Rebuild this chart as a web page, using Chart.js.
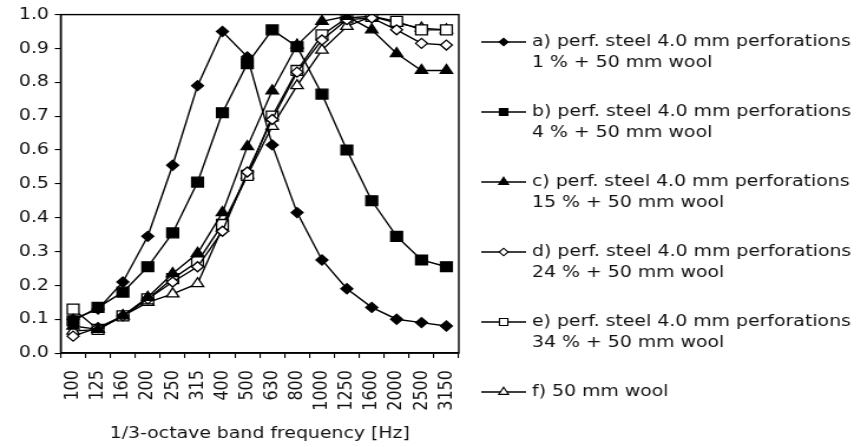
<!DOCTYPE html>
<html>
<head>
<meta charset="utf-8">
<script src="https://cdn.jsdelivr.net/npm/chart.js@4/dist/chart.umd.min.js"></script>
<style>
  html, body { margin: 0; padding: 0; background: #fff; overflow: hidden; }
  /* the reference is stretched sideways, so the chart is drawn narrower and widened */
  #wrap { width: 730px; height: 447px; transform: scaleX(1.1795); transform-origin: 0 0; }
</style>
</head>
<body>
<div id="wrap"><canvas id="absChart"></canvas></div>
<script>
// 1/3-octave bands
const bands = ["100", "125", "160", "200", "250", "315", "400", "500", "630",
               "800", "1000", "1250", "1600", "2000", "2500", "3150"];

// absorption coefficients
const seriesA = [0.10, 0.13, 0.21, 0.345, 0.555, 0.79, 0.95, 0.875, 0.615, 0.415, 0.275, 0.19, 0.135, 0.10, 0.09, 0.08];
const seriesB = [0.095, 0.135, 0.18, 0.255, 0.355, 0.505, 0.71, 0.855, 0.955, 0.905, 0.765, 0.60, 0.45, 0.345, 0.275, 0.255];
const seriesC = [0.08, 0.07, 0.11, 0.165, 0.235, 0.295, 0.415, 0.61, 0.775, 0.91, 0.98, 0.995, 0.955, 0.885, 0.835, 0.835];
const seriesD = [0.05, 0.075, 0.11, 0.16, 0.21, 0.255, 0.36, 0.535, 0.69, 0.83, 0.925, 0.985, 0.99, 0.955, 0.915, 0.91];
const seriesE = [0.13, 0.07, 0.11, 0.16, 0.22, 0.27, 0.38, 0.525, 0.70, 0.835, 0.94, 0.99, 0.995, 0.98, 0.955, 0.955];
const seriesF = [0.065, 0.07, 0.11, 0.15, 0.175, 0.205, 0.37, 0.525, 0.67, 0.79, 0.895, 0.965, 0.995, 0.975, 0.96, 0.955];

const yTicks = [0.0, 0.1, 0.2, 0.3, 0.4, 0.5, 0.6, 0.7, 0.8, 0.9, 1.0];

const labelLines = [
  ["a) perf. steel 4.0 mm perforations", "1 % + 50 mm wool"],
  ["b) perf. steel 4.0 mm perforations", "4 % + 50 mm wool"],
  ["c) perf. steel 4.0 mm perforations", "15 % + 50 mm wool"],
  ["d) perf. steel 4.0 mm perforations", "24 % + 50 mm wool"],
  ["e) perf. steel 4.0 mm perforations", "34 % + 50 mm wool"],
  ["f) 50 mm wool"]
];

const FONT = "'DejaVu Sans', Verdana, sans-serif";
const INK = "#111";

function makeSet(i, data, style, filled, radius, legendRadius) {
  return {
    label: labelLines[i].join(" "),
    data: data,
    borderColor: "#000",
    borderWidth: 1.4,
    pointStyle: style,
    pointRadius: radius,
    pointBorderWidth: 1.3,
    pointBackgroundColor: filled ? "#000" : "#fff",
    pointBorderColor: "#000",
    legendRadius: legendRadius,
    fill: false,
    tension: 0
  };
}

// frame around the plot area
const frame = {
  id: "frame",
  afterDatasetsDraw(chart) {
    const a = chart.chartArea, ctx = chart.ctx;
    ctx.save();
    ctx.strokeStyle = "#000";
    ctx.lineWidth = 1.4;
    ctx.strokeRect(a.left, a.top, a.right - a.left, a.bottom - a.top);
    ctx.restore();
  }
};

// legend on the right with two-line labels
const sideLegend = {
  id: "sideLegend",
  afterDraw(chart) {
    const ctx = chart.ctx;
    const x0 = chart.chartArea.right + 19;
    ctx.save();
    chart.data.datasets.forEach((ds, i) => {
      const y = 42 + i * 70;
      ctx.strokeStyle = "#000";
      ctx.lineWidth = 1.4;
      ctx.beginPath();
      ctx.moveTo(x0, y);
      ctx.lineTo(x0 + 38, y);
      ctx.stroke();
      ctx.fillStyle = ds.pointBackgroundColor;
      ctx.lineWidth = 1.1;
      Chart.helpers.drawPoint(ctx, { pointStyle: ds.pointStyle, radius: ds.legendRadius, rotation: 0, borderWidth: 1.1 }, x0 + 19, y);
      ctx.fillStyle = INK;
      ctx.font = "16px " + FONT;
      ctx.textBaseline = "middle";
      ctx.textAlign = "left";
      labelLines[i].forEach((t, k) => ctx.fillText(t, x0 + 43, y + k * 21));
    });
    ctx.restore();
  }
};

new Chart(document.getElementById("absChart"), {
  type: "line",
  data: {
    labels: bands,
    datasets: [
      makeSet(0, seriesA, "rectRot", true, 5, 3.8),
      makeSet(1, seriesB, "rect", true, 7, 5),
      makeSet(2, seriesC, "triangle", true, 6, 4.8),
      makeSet(3, seriesD, "rectRot", false, 5, 3.8),
      makeSet(4, seriesE, "rect", false, 7, 5),
      makeSet(5, seriesF, "triangle", false, 6, 4.8)
    ]
  },
  options: {
    responsive: true,
    maintainAspectRatio: false,
    animation: false,
    layout: { padding: { left: 11, right: 341, top: 9, bottom: 4 } },
    plugins: {
      legend: { display: false },
      tooltip: { enabled: false }
    },
    scales: {
      x: {
        type: "category",
        offset: true,
        grid: { display: true, drawOnChartArea: false, offset: true, color: "#000", tickLength: 5, lineWidth: 1.1 },
        border: { display: true, color: "#000", width: 1.4 },
        ticks: {
          color: INK,
          font: { family: FONT, size: 16 },
          minRotation: 90,
          maxRotation: 90,
          autoSkip: false,
          padding: 12
        },
        title: {
          display: true,
          text: "1/3-octave band frequency [Hz]",
          color: INK,
          font: { family: FONT, size: 16 },
          padding: { top: 1, bottom: 0 }
        }
      },
      y: {
        min: 0,
        max: 1,
        afterBuildTicks(scale) { scale.ticks = yTicks.map(v => ({ value: v })); },
        grid: { display: true, drawOnChartArea: false, color: "#000", tickLength: 5, lineWidth: 1.1 },
        border: { display: true, color: "#000", width: 1.4 },
        ticks: {
          color: INK,
          font: { family: FONT, size: 16 },
          padding: 5,
          callback: v => v.toFixed(1)
        }
      }
    }
  },
  plugins: [frame, sideLegend]
});
</script>
</body>
</html>
